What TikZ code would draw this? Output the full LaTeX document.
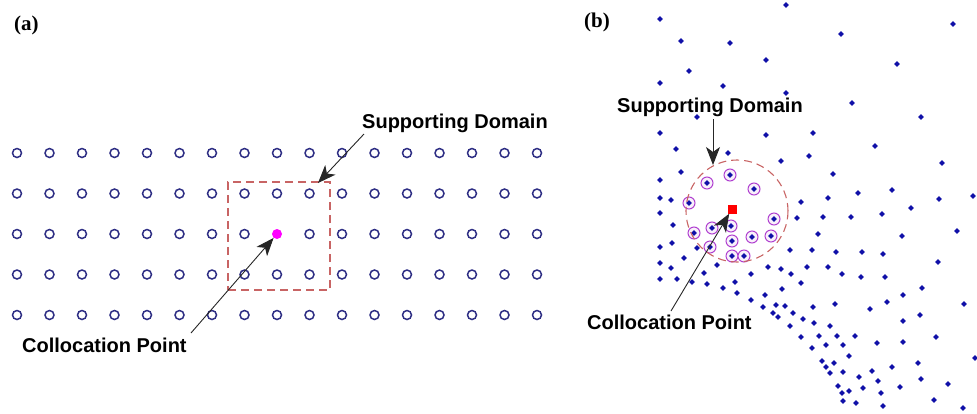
\documentclass[tikz,border=0pt]{standalone}
\usepackage{fontspec}
\setmainfont{Liberation Sans}
\newfontfamily\panelfont{Liberation Serif}
\usetikzlibrary{arrows.meta,shapes.geometric}
\definecolor{gridblue}{HTML}{2E2E84}
\definecolor{boxred}{HTML}{C86464}
\definecolor{ptblue}{HTML}{1010A8}
\definecolor{suppc}{HTML}{B040D0}
\definecolor{cpmag}{HTML}{FF00FF}
\begin{document}
\begin{tikzpicture}[x=1pt,y=-1pt,
  gridpt/.style={circle,draw=gridblue,line width=1.5pt,minimum size=9pt,inner sep=0pt},
  colpt/.style={circle,fill=cpmag,minimum size=10pt,inner sep=0pt},
  dpt/.style={diamond,fill=ptblue,minimum size=6pt,inner sep=0pt},
  supppt/.style={circle,draw=suppc,fill=suppc!8,line width=1pt,minimum size=12pt,inner sep=0pt},
  lbl/.style={font=\bfseries\fontsize{20}{24}\selectfont,inner sep=0pt},
  panel/.style={font=\panelfont\bfseries\fontsize{21}{24}\selectfont,inner sep=0pt},
  arr/.style={-{Stealth[length=18pt,width=14pt,inset=5pt]},line width=0.9pt,draw=black!85},
  dom/.style={draw=boxred,line width=1.1pt,dash pattern=on 8pt off 5pt}]
\useasboundingbox (0,0) rectangle (977,413);

% ---------- panel (a)
\node[panel,anchor=west] (pa) at (14,25) {(a)};
\foreach \c in {0,...,16}{
  \foreach \r in {0,...,4}{
    \pgfmathtruncatemacro{\skip}{(\c==8)&&(\r==2)}
    \ifnum\skip=0
      \node[gridpt] (g-\c-\r) at ({17+32.5*\c},{153+40.5*\r}) {};
    \fi
  }
}
\node[colpt] (cpa) at (277,234) {};
\node[dom,minimum width=102pt,minimum height=108pt,inner sep=0pt] (boxa) at (279,236) {};

\node[lbl,anchor=west] (sda) at (362,123) {Supporting Domain};
\coordinate (sdastart) at (364,134);
\coordinate (sdatip) at (318,183);
\draw[arr] (sdastart) -- (sdatip);

\node[lbl,anchor=west] (cla) at (22,345) {Collocation Point};
\coordinate (clastart) at (191,333);
\draw[arr] (clastart) -- (cpa);

% ---------- panel (b)
\node[panel,anchor=west] (pb) at (584,22) {(b)};
\foreach \px/\py in {786/5,660/19,953/24,841/34,681/41,730/43,766/60,897/64,689/71,660/83,723/86,786/93,852/103,697/117,921/117,660/133,766/135,813/133,875/146,676/149,728/153,809/156,781/161,942/163,681/172,833/174,660/180,
660/198,671/200,801/202,828/198,858/193,892/190,939/199,973/196,
660/213,911/208,797/218,823/217,851/217,882/214,
673/225,957/231,818/234,902/236,
660/247,672/243,697/248,790/250,812/250,836/252,862/252,883/254,
660/263,684/258,717/265,938/262,
671/268,768/267,781/269,807/267,828/267,704/273,751/274,791/274,842/274,861/277,885/277,
660/279,677/279,692/282,735/282,801/283,707/284,723/288,782/289,922/288,
737/293,765/295,903/295,
751/300,887/302,964/304,
763/307,776/305,785/306,835/304,813/307,870/309,
773/313,793/313,778/317,920/315,
803/319,814/323,903/321,
790/326,830/326,
801/337,819/336,837/336,855/336,936/337,
877/343,903/342,826/345,843/345,
812/348,
849/356,975/358,
822/361,834/363,918/363,
826/367,892/367,
830/373,843/372,872/371,
859/377,921/379,
878/381,948/384,
838/386,863/388,900/387,
849/391,842/393,881/393,
843/401,856/403,934/400,883/406,963/408}{
  \node[dpt] at (\px,\py) {};
}
\foreach \px/\py [count=\i] in {707/183,730/175,754/189,689/203,774/219,731/226,712/228,694/233,771/236,752/237,732/241,710/247,732/256,744/256}{
  \node[supppt] (s\i) at (\px,\py) {};
  \node[dpt] at (\px,\py) {};
}
\node[dom,circle,minimum size=102pt,inner sep=0pt] (domb) at (737,211) {};
\node[rectangle,fill=red,minimum size=9pt,inner sep=0pt] (cpb) at (732,209) {};

\node[lbl,anchor=west] (sdb) at (617,107) {Supporting Domain};
\coordinate (sdbstart) at (713,119);
\coordinate (sdbtip) at (713,165);
\draw[arr] (sdbstart) -- (sdbtip);

\node[lbl,anchor=west] (clb) at (587,322) {Collocation Point};
\coordinate (clbstart) at (671,311);
\draw[arr] (clbstart) -- (cpb);
\end{tikzpicture}
\end{document}
